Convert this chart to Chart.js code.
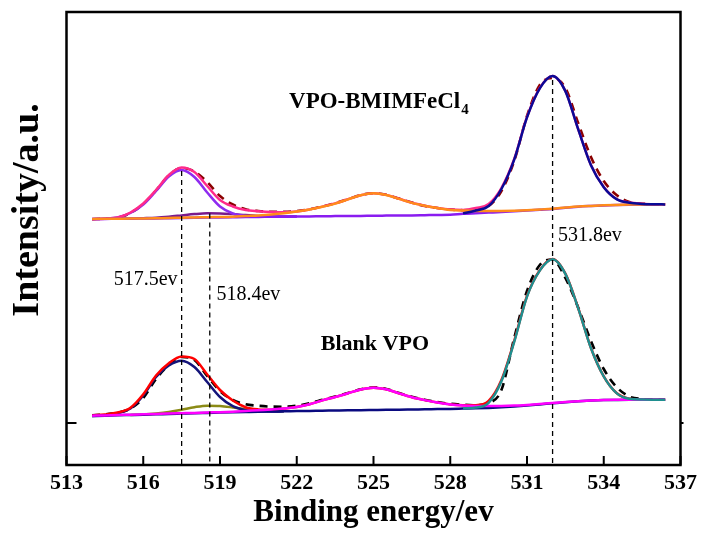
<!DOCTYPE html>
<html lang="en">
<head>
<meta charset="UTF-8">
<title>XPS V2p / O1s</title>
<script src="https://cdn.jsdelivr.net/npm/chart.js"></script>
<style>
  html, body { margin: 0; padding: 0; background: #fff; }
  canvas { display: block; }
</style>
</head>
<body>
<canvas id="xps" width="702" height="533"></canvas>
<script>
// binding energy grid (eV)
const energy = [514, 514.5, 515, 515.5, 516, 516.5, 517, 517.5, 518, 518.5,
  519, 519.5, 520, 520.5, 521, 521.5, 522, 522.5, 523, 523.5,
  524, 524.5, 525, 525.5, 526, 526.5, 527, 527.5, 528, 528.5,
  529, 529.5, 530, 530.5, 531, 531.5, 532, 532.5, 533, 533.5,
  534, 534.5, 535, 535.5, 536, 536.4];
const xTicks = [513, 516, 519, 522, 525, 528, 531, 534, 537];

// VPO-BMIMFeCl4 (upper spectrum)
const rawTop = [203.8, 204.3, 205.3, 210, 219, 232.5, 247.5, 255, 251.5, 241,
  227, 218.5, 213.8, 212, 211.3, 211.3, 212, 213.8, 216.5, 219.8,
  223.8, 228, 229.8, 228.2, 224.5, 220.5, 217, 215, 213.5, 212.8,
  213.5, 217, 232, 262, 307, 338, 345, 335, 300, 266,
  242, 228, 221, 219.3, 218.7, 218.6];
const envTop = [203.8, 204.3, 205.5, 210.5, 219.5, 233, 248, 255.5, 251, 237,
  223, 216.5, 213, 211.8, 211, 210.8, 211.6, 213.6, 216.4, 219.6,
  223.7, 227.8, 229.8, 228.1, 224.2, 220.2, 217.3, 215, 213.4, 213,
  215, 219, 235, 264, 306, 335, 347, 332, 294, 258,
  236, 224, 220.5, 219.3, 218.8, 218.7];
const p1Top = [204, 204.4, 205.6, 210, 218.5, 232, 246.5, 253, 246, 230.5,
  216.5, 209.5, 207, 206.4, 206.2, 206.3, 206.5, null, null, null,
  null, null, null, null, null, null, null, null, null, null,
  null, null, null, null, null, null, null, null, null, null,
  null, null, null, null, null, null];
const p2Top = [null, null, 204.3, 204.4, 204.8, 205.3, 206.3, 207.6, 208.9, 209.7,
  209.6, 208.9, 207.9, 207.1, 206.6, 206.45, 206.5, null, null, null,
  null, null, null, null, null, null, null, null, null, null,
  null, null, null, null, null, null, null, null, null, null,
  null, null, null, null, null, null];
const satTop = [204.1, 204.2, 204.3, 204.4, 204.6, 204.8, 205, 205.3, 205.5, 205.8,
  206, 206.3, 207, 207.6, 208.5, 209.7, 211.4, 213.5, 216.2, 219.4,
  223.6, 227.7, 229.7, 228, 224.1, 220.1, 217.2, 214.9, 213.1, 212.4,
  212, 211.9, 212, 212.3, 212.8, 213.5, 214.3, 215.4, 216.4, 217.1,
  217.7, 218.1, 218.4, 218.6, 218.7, 218.7];
const o1sTop = [null, null, null, null, null, null, null, null, null, null,
  null, null, null, null, null, null, null, null, null, null,
  null, null, null, null, null, null, null, null, null, 209.6,
  212.5, 217, 234, 263.4, 305.6, 334.7, 347, 331.9, 293.8, 257.8,
  235.8, 223.9, 220.3, 219.1, 218.7, 218.6];
const bgTop = [204, 204.1, 204.2, 204.3, 204.5, 204.6, 204.8, 205, 205.2, 205.4,
  205.6, 205.8, 206, 206.1, 206.2, 206.3, 206.5, 206.6, 206.8, 206.9,
  207, 207.1, 207.3, 207.4, 207.5, 207.6, 207.8, 208, 208.2, 209.2,
  209.8, 210.4, 211, 211.7, 212.4, 213.2, 214, 215.3, 216.3, 217,
  217.6, 218, 218.3, 218.5, 218.6, 218.6];

// Blank VPO (lower spectrum)
const rawBot = [7.6, 8.6, 10.3, 14.5, 25, 44, 58, 66, 63, 47,
  32, 23, 18.7, 17.2, 16.4, 16.3, 17.3, 19.8, 23.2, 26.4,
  30, 33.7, 35.5, 34, 30, 26.2, 23.3, 21, 19.2, 18.2,
  17.8, 20, 33, 85, 132, 158, 163.5, 145, 115.5, 82,
  54, 36, 26.5, 24, 23.4, 23.3];
const envBot = [7.6, 8.6, 10.5, 15.3, 28.7, 47.5, 59.8, 66.5, 64, 48.5,
  33, 22.5, 15.8, 13.6, 13.2, 14.4, 15.9, 18.7, 22.6, 26,
  29.7, 33.5, 35.3, 33.7, 29.6, 25.8, 22.9, 20.5, 18.6, 17.8,
  17.8, 22, 43, 82, 127, 152.8, 164, 149.3, 115, 75,
  46.6, 30, 24.3, 23.5, 23.3, 23.2];
const p1Bot = [7.1, 7.6, 10, 14.5, 27.5, 46, 57.5, 62.3, 56, 41,
  26, 16.8, 12.8, 11.7, 11.5, 11.7, null, null, null, null,
  null, null, null, null, null, null, null, null, null, null,
  null, null, null, null, null, null, null, null, null, null,
  null, null, null, null, null, null];
const p2Bot = [null, null, null, 8.1, 8.5, 9.5, 11, 13.3, 15.8, 17.3,
  17, 15.5, 13.7, 12.5, 11.9, 11.7, null, null, null, null,
  null, null, null, null, null, null, null, null, null, null,
  null, null, null, null, null, null, null, null, null, null,
  null, null, null, null, null, null];
const satBot = [7.3, 7.6, 8, 8.3, 8.7, 9.1, 9.5, 9.8, 10.1, 10.5,
  10.8, 11.3, 12, 12.8, 13.5, 14.4, 15.9, 18.7, 22.6, 26,
  29.7, 33.5, 35.3, 33.7, 29.6, 25.8, 22.9, 20.5, 18.6, 17.6,
  17.1, 16.9, 17, 17.4, 18.1, 19, 20, 21, 21.8, 22.5,
  23, 23.2, 23.3, 23.3, 23.3, 23.3];
const o1sBot = [null, null, null, null, null, null, null, null, null, null,
  null, null, null, null, null, null, null, null, null, null,
  null, null, null, null, null, null, null, null, null, 14.7,
  15.4, 20.2, 41.7, 81.1, 126.4, 152.4, 163.7, 149.1, 114.9, 74.9,
  46.5, 29.9, 24.2, 23.5, 23.3, 23.2];
const bgBot = [7, 7.3, 7.7, 8, 8.3, 8.7, 9, 9.4, 9.8, 10.1,
  10.4, 10.7, 11, 11.3, 11.5, 11.7, 11.9, 12.1, 12.3, 12.5,
  12.7, 12.8, 13, 13.2, 13.3, 13.5, 13.7, 13.9, 14.1, 14.4,
  14.7, 15.1, 15.7, 16.5, 17.5, 18.6, 19.7, 20.8, 21.7, 22.4,
  22.9, 23.1, 23.2, 23.2, 23.2, 23.2];

// dashed guide lines: peak position and where the line starts
const guideE = [517.5, 518.6, 532.0];
const guideTop = [252, 209.5, 343];

const serif = "'Liberation Serif', 'Times New Roman', serif";

const pts = ys => energy.map((x, i) => ({ x, y: ys[i] }));

function curve(data, color, order, dash) {
  return {
    data: pts(data),
    borderColor: color,
    borderWidth: dash ? 2.6 : 2.5,
    borderDash: dash || [],
    pointRadius: 0,
    fill: false,
    cubicInterpolationMode: 'monotone',
    spanGaps: false,
    order: order
  };
}

// lower order is drawn on top
const datasets = [
  curve(o1sTop, '#0a0a96', 2),
  curve(satTop, '#ff8c1a', 3),
  curve(bgTop, '#8a1cf0', 4),
  curve(envTop, '#ff2a8a', 5),
  curve(p1Top, '#8f2bf0', 6),
  curve(p2Top, '#7a1a8c', 7),
  curve(rawTop, '#8b0000', 8, [8, 6]),

  curve(o1sBot, '#1f8f8f', 2),
  curve(satBot, '#ff00ff', 3),
  curve(bgBot, '#0a0a80', 4),
  curve(envBot, '#ff0000', 5),
  curve(p1Bot, '#14147a', 6),
  curve(p2Bot, '#8b8b16', 7),
  curve(rawBot, '#000000', 8, [8, 6])
];

guideE.forEach((e, i) => {
  datasets.push({
    data: [{ x: e, y: guideTop[i] }, { x: e, y: -42 }],
    borderColor: '#000',
    borderWidth: 1.3,
    borderDash: [5, 4],
    pointRadius: 0,
    order: 0
  });
});

const notes = [
  { text: '517.5ev', e: 517.34, v: 143, align: 'right' },
  { text: '518.4ev', e: 518.86, v: 128, align: 'left' },
  { text: '531.8ev', e: 532.21, v: 187, align: 'left' }
];

const decor = {
  id: 'decor',
  afterDatasetsDraw(chart) {
    const { ctx, chartArea: a, scales: { x, y } } = chart;
    ctx.save();
    ctx.strokeStyle = '#000';
    ctx.lineWidth = 2.5;
    ctx.strokeRect(a.left, a.top, a.right - a.left, a.bottom - a.top);

    // inward tick marks
    ctx.lineWidth = 2;
    ctx.beginPath();
    x.ticks.forEach(t => {
      const px = x.getPixelForValue(t.value);
      ctx.moveTo(px, a.bottom);
      ctx.lineTo(px, a.bottom - 9);
    });
    y.ticks.forEach(t => {
      const py = y.getPixelForValue(t.value);
      ctx.moveTo(a.left, py);
      ctx.lineTo(a.left + 10, py);
      ctx.moveTo(a.right, py);
      ctx.lineTo(a.right + 3, py);
    });
    ctx.stroke();

    ctx.fillStyle = '#000';
    ctx.textBaseline = 'middle';
    ctx.font = '20px ' + serif;
    notes.forEach(n => {
      ctx.textAlign = n.align;
      ctx.fillText(n.text, x.getPixelForValue(n.e), y.getPixelForValue(n.v));
    });

    // sample names
    ctx.textAlign = 'left';
    ctx.font = 'bold 23px ' + serif;
    const sx = x.getPixelForValue(521.7), sy = y.getPixelForValue(321);
    ctx.fillText('VPO-BMIMFeCl', sx, sy);
    const w = ctx.measureText('VPO-BMIMFeCl').width;
    ctx.font = 'bold 15px ' + serif;
    ctx.fillText('4', sx + w + 1, sy + 8);
    ctx.font = 'bold 22px ' + serif;
    ctx.fillText('Blank VPO', x.getPixelForValue(522.94), y.getPixelForValue(79));

    // y axis title
    ctx.translate(28, 210);
    ctx.rotate(-Math.PI / 2);
    ctx.textAlign = 'center';
    ctx.font = 'bold 38px ' + serif;
    ctx.fillText('Intensity/a.u.', 0, 0);
    ctx.restore();
  }
};

new Chart(document.getElementById('xps'), {
  type: 'line',
  data: { datasets },
  options: {
    responsive: false,
    animation: false,
    layout: { padding: { top: 12, right: 19, left: 0, bottom: 0 } },
    plugins: { legend: { display: false }, tooltip: { enabled: false } },
    scales: {
      x: {
        type: 'linear',
        min: 513,
        max: 537,
        afterBuildTicks: s => { s.ticks = xTicks.map(v => ({ value: v })); },
        afterFit: s => { s.height = 68; },
        grid: { display: false, drawTicks: false },
        border: { display: false },
        ticks: { color: '#000', padding: 5, font: { family: serif, size: 22, weight: 'bold' } },
        title: {
          display: true,
          text: 'Binding energy/ev',
          color: '#000',
          padding: { top: 0, bottom: 1 },
          font: { family: serif, size: 31, weight: 'bold' }
        }
      },
      y: {
        type: 'linear',
        min: -42,
        max: 411,
        afterBuildTicks: s => { s.ticks = [{ value: 0 }]; },
        afterFit: s => { s.width = 66.5; },
        grid: { display: false, drawTicks: false },
        border: { display: false },
        ticks: { display: false }
      }
    }
  },
  plugins: [decor]
});
</script>
</body>
</html>
